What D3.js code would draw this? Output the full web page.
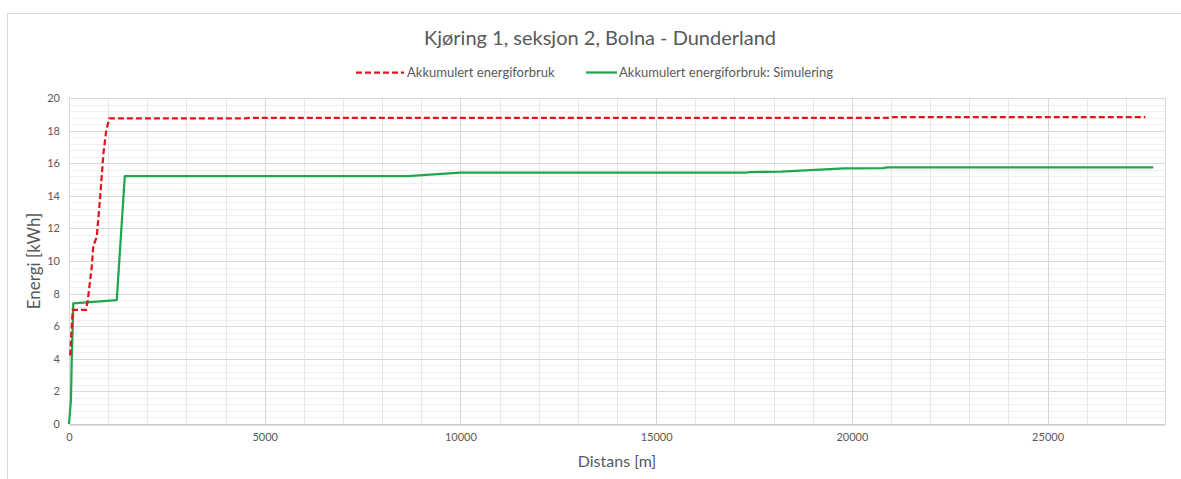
<!DOCTYPE html>
<html>
<head>
<meta charset="utf-8">
<script src="https://cdn.jsdelivr.net/npm/d3@7"></script>
<style>
  body { margin: 0; background: #fff; }
  text { font-family: Lato, "Open Sans", sans-serif; fill: #595959; }
</style>
</head>
<body>
<svg id="chart" width="1181" height="479"></svg>
<script>
// measured series
var distMeasured = [30, 95, 435, 480, 580, 620, 710, 795, 880, 950, 1030, 4500, 4600, 20900, 21000, 27500];
var energyMeasured = [4.2, 7.0, 7.0, 7.6, 9.6, 10.9, 11.5, 13.9, 16.6, 18.0, 18.75, 18.75, 18.78, 18.78, 18.82, 18.82];

// simulated series
var distSim = [0, 50, 70, 95, 110, 1220, 1425, 8650, 10000, 17300, 17400, 18200, 19800, 20800, 20900, 27700];
var energySim = [0, 1.5, 4.0, 6.0, 7.4, 7.6, 15.2, 15.2, 15.42, 15.42, 15.46, 15.48, 15.68, 15.7, 15.75, 15.75];

var xTicks = [0, 5000, 10000, 15000, 20000, 25000];
var yTicks = [0, 2, 4, 6, 8, 10, 12, 14, 16, 18, 20];

var seriesNames = ["Akkumulert energiforbruk", "Akkumulert energiforbruk: Simulering"];
var titleText = "Kjøring 1, seksjon 2, Bolna - Dunderland";

var svg = d3.select("#chart"),
    margin = { top: 98, left: 69, right: 16, bottom: 55 },
    width = +svg.attr("width"),
    height = +svg.attr("height");

// chart frame
svg.append("rect")
    .attr("x", 7.5).attr("y", 13.5)
    .attr("width", 1200).attr("height", 500)
    .attr("fill", "#fff")
    .attr("stroke", "#d9d9d9");

var x = d3.scaleLinear().domain([0, 28000]).range([margin.left, width - margin.right]);
var y = d3.scaleLinear().domain([0, 20]).range([height - margin.bottom, margin.top]);

// minor gridlines
svg.append("g")
    .selectAll("line")
    .data(d3.range(0, 20.01, 0.4))
    .enter().append("line")
    .attr("x1", x(0)).attr("x2", x(28000))
    .attr("y1", d => Math.round(y(d)) + 0.5).attr("y2", d => Math.round(y(d)) + 0.5)
    .attr("stroke", "#f0f0f0");

svg.append("g")
    .selectAll("line")
    .data(d3.range(0, 28001, 1000))
    .enter().append("line")
    .attr("x1", d => Math.round(x(d)) + 0.5).attr("x2", d => Math.round(x(d)) + 0.5)
    .attr("y1", y(0)).attr("y2", y(20))
    .attr("stroke", "#e8e8e8");

// major gridlines
svg.append("g")
    .selectAll("line")
    .data(yTicks)
    .enter().append("line")
    .attr("x1", x(0)).attr("x2", x(28000))
    .attr("y1", d => Math.round(y(d)) + 0.5).attr("y2", d => Math.round(y(d)) + 0.5)
    .attr("stroke", "#d9d9d9");

svg.append("g")
    .selectAll("line")
    .data(xTicks)
    .enter().append("line")
    .attr("x1", d => Math.round(x(d)) + 0.5).attr("x2", d => Math.round(x(d)) + 0.5)
    .attr("y1", y(0)).attr("y2", y(20))
    .attr("stroke", "#d9d9d9");

// right edge of plot area
svg.append("line")
    .attr("x1", Math.round(x(28000)) + 0.5).attr("x2", Math.round(x(28000)) + 0.5)
    .attr("y1", y(0)).attr("y2", y(20))
    .attr("stroke", "#d9d9d9");

// axes
var xAxis = svg.append("g")
    .attr("transform", `translate(0,${Math.round(y(0)) + 0.5})`)
    .call(d3.axisBottom(x).tickValues(xTicks).tickSize(0).tickPadding(9).tickFormat(d3.format("d")));
xAxis.select(".domain").attr("stroke", "#bfbfbf");
xAxis.selectAll("text").attr("font-size", 11).style("fill", "#595959");

var yAxis = svg.append("g")
    .attr("transform", `translate(${margin.left},0)`)
    .call(d3.axisLeft(y).tickValues(yTicks).tickSize(0).tickPadding(9));
yAxis.select(".domain").remove();
yAxis.selectAll("text").attr("font-size", 11).style("fill", "#595959");

// lines
var line = d3.line().x(d => x(d[0])).y(d => y(d[1]));

var measured = distMeasured.map((d, i) => [d, energyMeasured[i]]);
var simulated = distSim.map((d, i) => [d, energySim[i]]);

svg.append("path")
    .datum(simulated)
    .attr("fill", "none")
    .attr("stroke", "#1ea84e")
    .attr("stroke-width", 2.25)
    .attr("stroke-linejoin", "round")
    .attr("d", line);

svg.append("path")
    .datum(measured)
    .attr("fill", "none")
    .attr("stroke", "#e3141c")
    .attr("stroke-width", 2.25)
    .attr("stroke-dasharray", "6,3")
    .attr("d", line);

// title
svg.append("text")
    .attr("x", 600)
    .attr("y", 45)
    .attr("text-anchor", "middle")
    .attr("font-size", 20)
    .text(titleText);

// legend
var legend = svg.append("g").attr("font-size", 13);
legend.append("line")
    .attr("x1", 356).attr("x2", 404).attr("y1", 72.5).attr("y2", 72.5)
    .attr("stroke", "#e3141c").attr("stroke-width", 2.25).attr("stroke-dasharray", "6,3");
legend.append("text").attr("x", 407).attr("y", 77).text(seriesNames[0]);
legend.append("line")
    .attr("x1", 586).attr("x2", 617).attr("y1", 72.5).attr("y2", 72.5)
    .attr("stroke", "#1ea84e").attr("stroke-width", 2.25);
legend.append("text").attr("x", 619).attr("y", 77).text(seriesNames[1]);

// axis titles
svg.append("text")
    .attr("x", x(14000))
    .attr("y", 467)
    .attr("text-anchor", "middle")
    .attr("font-size", 16)
    .text("Distans [m]");

svg.append("text")
    .attr("transform", `translate(40,${y(10)}) rotate(-90)`)
    .attr("text-anchor", "middle")
    .attr("font-size", 17)
    .text("Energi [kWh]");
</script>
</body>
</html>
